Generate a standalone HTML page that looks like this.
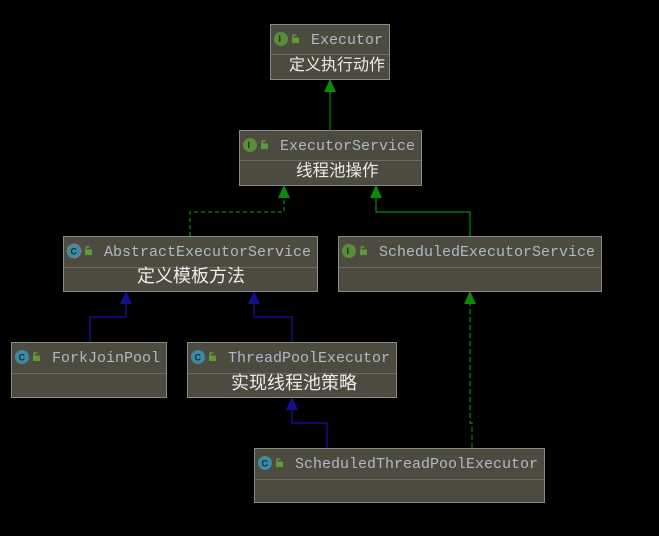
<!DOCTYPE html>
<html><head><meta charset="utf-8"><style>
html,body{margin:0;padding:0;background:#000;}
svg{display:block}
.b{fill:#4d4a40;stroke:#8a8a85;stroke-width:1}
.d{stroke:#6a6860;stroke-width:1}
.t{font-family:"Liberation Mono",monospace;font-size:15px;fill:#afbac5}
.c{font-family:"Liberation Sans","Noto Sans CJK SC",sans-serif;fill:#ececec}
.ic{font-family:"Liberation Sans",sans-serif;font-size:9px;font-weight:bold;fill:#1e2a1e}
</style></head><body>
<svg width="659" height="536" viewBox="0 0 659 536" xmlns="http://www.w3.org/2000/svg">
<defs>
<g id="lock"><rect x="0" y="3.5" width="7" height="5.5" fill="#5f9a3a"/><path d="M1.2 3.5 V1 H4.5" stroke="#5f9a3a" fill="none" stroke-width="1.4"/></g>
</defs>
<g fill="none" stroke-width="1.2">
<path d="M330 130 V88" stroke="#0a8a0a"/>
<path d="M190 236 V212 H284 V194" stroke="#0a8a0a" stroke-dasharray="4,3"/>
<path d="M470 236 V212 H376 V194" stroke="#0a8a0a"/>
<path d="M90 342 V317 H126 V300" stroke="#1414a0"/>
<path d="M292 342 V317 H254 V300" stroke="#1414a0"/>
<path d="M327 448 V423 H292 V406" stroke="#1414a0"/>
<path d="M472 448 V423 H470 V300" stroke="#0a8a0a" stroke-dasharray="5,3"/>
</g>
<g fill="#0a8a0a">
<polygon points="330,79 324,92 336,92"/>
<polygon points="284,185 278,198 290,198"/>
<polygon points="376,185 370,198 382,198"/>
<polygon points="470,291 464,304 476,304"/>
</g>
<g fill="#10108c">
<polygon points="126,291 120,304 132,304"/>
<polygon points="254,291 248,304 260,304"/>
<polygon points="292,397 286,410 298,410"/>
</g>
<rect class="b" x="270.5" y="24.5" width="119" height="55"/>
<line class="d" x1="271" y1="54.5" x2="389" y2="54.5"/>
<circle cx="281" cy="39" r="7" fill="#5a8c3c"/><text class="ic" x="278.5" y="42">I</text>
<use href="#lock" x="292" y="34"/>
<text class="t" x="311" y="44">Executor</text>
<text class="c" x="289" y="70" font-size="16">定义执行动作</text>
<rect class="b" x="239.5" y="130.5" width="182" height="55"/>
<line class="d" x1="240" y1="160.5" x2="421" y2="160.5"/>
<circle cx="250" cy="145" r="7" fill="#5a8c3c"/><text class="ic" x="247.5" y="148">I</text>
<use href="#lock" x="261" y="140"/>
<text class="t" x="280" y="150">ExecutorService</text>
<text class="c" x="296" y="176" font-size="16.5">线程池操作</text>
<rect class="b" x="63.5" y="236.5" width="254" height="55"/>
<line class="d" x1="64" y1="267.5" x2="317" y2="267.5"/>
<circle cx="74" cy="251" r="7" fill="#3d8aa6" stroke="#888" stroke-dasharray="2,1"/><text class="ic" x="70.5" y="254.5">C</text>
<use href="#lock" x="85" y="246"/>
<text class="t" x="104" y="256">AbstractExecutorService</text>
<text class="c" x="137" y="282" font-size="18">定义模板方法</text>
<rect class="b" x="338.5" y="236.5" width="263" height="55"/>
<line class="d" x1="339" y1="267.5" x2="601" y2="267.5"/>
<circle cx="349" cy="251" r="7" fill="#5a8c3c"/><text class="ic" x="346.5" y="254">I</text>
<use href="#lock" x="360" y="246"/>
<text class="t" x="379" y="256">ScheduledExecutorService</text>
<rect class="b" x="11.5" y="342.5" width="155" height="55"/>
<line class="d" x1="12" y1="373.5" x2="166" y2="373.5"/>
<circle cx="22" cy="357" r="7" fill="#3d8aa6"/><text class="ic" x="18.5" y="360.5">C</text>
<use href="#lock" x="33" y="352"/>
<text class="t" x="52" y="362">ForkJoinPool</text>
<rect class="b" x="187.5" y="342.5" width="209" height="55"/>
<line class="d" x1="188" y1="373.5" x2="396" y2="373.5"/>
<circle cx="198" cy="357" r="7" fill="#3d8aa6"/><text class="ic" x="194.5" y="360.5">C</text>
<use href="#lock" x="209" y="352"/>
<text class="t" x="228" y="362">ThreadPoolExecutor</text>
<text class="c" x="231" y="389" font-size="18">实现线程池策略</text>
<rect class="b" x="254.5" y="448.5" width="290" height="54"/>
<line class="d" x1="255" y1="479.5" x2="544" y2="479.5"/>
<circle cx="265" cy="463" r="7" fill="#3d8aa6"/><text class="ic" x="261.5" y="466.5">C</text>
<use href="#lock" x="276" y="458"/>
<text class="t" x="295" y="468">ScheduledThreadPoolExecutor</text>
</svg>
</body></html>
